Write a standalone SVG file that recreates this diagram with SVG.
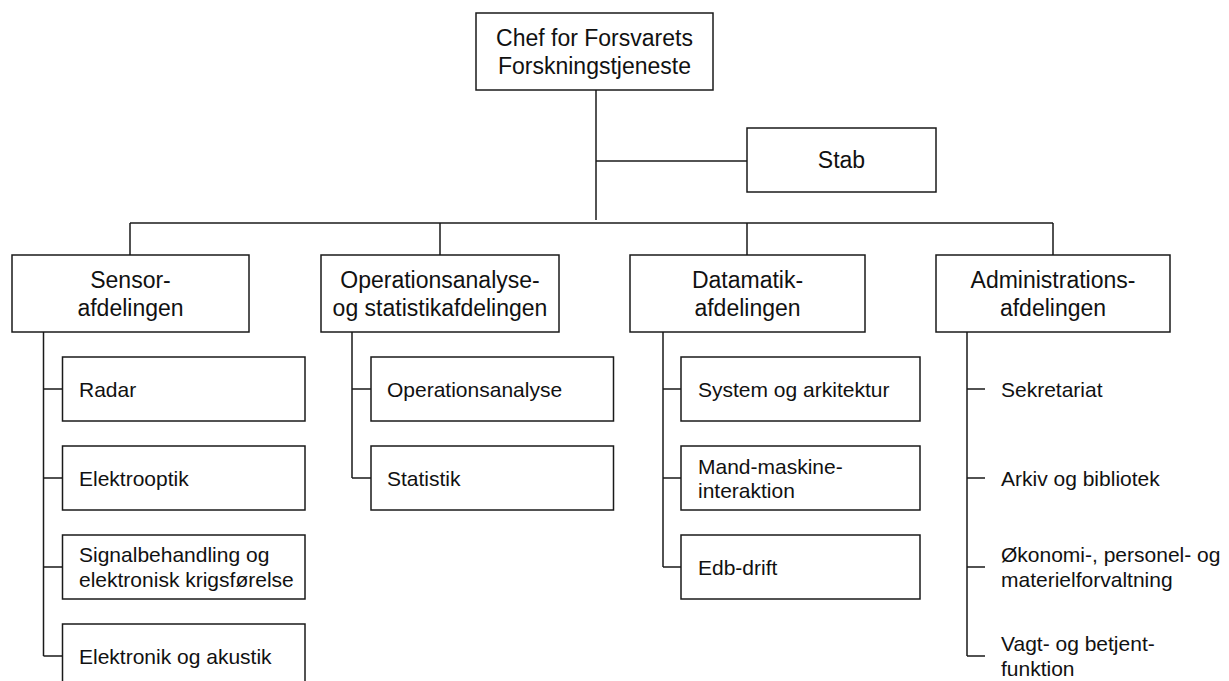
<svg xmlns="http://www.w3.org/2000/svg" width="1229" height="681" viewBox="0 0 1229 681">
<style>
rect{fill:#fff;stroke:#1a1a1a;stroke-width:1.5}
.c path{fill:none;stroke:#1a1a1a;stroke-width:1.5}
text{font-family:"Liberation Sans",Arial,Helvetica,sans-serif;fill:#111}
.m{font-size:23px;text-anchor:middle}
.s{font-size:21px}
</style>
<rect x="0" y="0" width="1229" height="681" style="stroke:none"/>
<g class="c" id="connectors">
<path d="M596 90V220"/>
<path d="M596 161H747"/>
<path d="M130 223H1053"/>
<path d="M130 223V255M440 223V255M747 223V255M1053 223V255"/>
<path d="M43.5 332V656M43.5 389H62.5M43.5 478H62.5M43.5 567H62.5M43.5 656H62.5"/>
<path d="M352 332V478M352 389H371M352 478H371"/>
<path d="M663 332V567M663 389H681M663 478H681M663 567H681"/>
<path d="M967 332V656M967 389H985M967 478H985M967 567H985M967 656H985"/>
</g>
<g id="chef"><rect x="476" y="13" width="237" height="77"/><text class="m" x="594.5" y="45.7">Chef for Forsvarets</text><text class="m" x="594.5" y="73.7">Forskningstjeneste</text></g>
<g id="stab"><rect x="747" y="128" width="189" height="64"/><text class="m" x="841.5" y="168">Stab</text></g>
<g id="sensor"><rect x="12" y="255" width="237" height="77"/><text class="m" x="130.5" y="287.7">Sensor-</text><text class="m" x="130.5" y="315.7">afdelingen</text></g>
<g id="operation"><rect x="321" y="255" width="238" height="77"/><text class="m" x="440" y="287.7">Operationsanalyse-</text><text class="m" x="440" y="315.7">og statistikafdelingen</text></g>
<g id="datamatik"><rect x="630" y="255" width="235" height="77"/><text class="m" x="747.5" y="287.7">Datamatik-</text><text class="m" x="747.5" y="315.7">afdelingen</text></g>
<g id="admin"><rect x="936" y="255" width="234" height="77"/><text class="m" x="1053" y="287.7">Administrations-</text><text class="m" x="1053" y="315.7">afdelingen</text></g>
<g id="radar"><rect x="62.5" y="357" width="242.5" height="64"/><text class="s" x="79" y="396.5">Radar</text></g>
<g id="elektrooptik"><rect x="62.5" y="446" width="242.5" height="64"/><text class="s" x="79" y="485.5">Elektrooptik</text></g>
<g id="signal"><rect x="62.5" y="535" width="242.5" height="64"/><text class="s" x="79" y="562">Signalbehandling og</text><text class="s" x="79" y="586.5">elektronisk krigsførelse</text></g>
<g id="elektronik"><rect x="62.5" y="624" width="242.5" height="64"/><text class="s" x="79" y="663.5">Elektronik og akustik</text></g>
<g id="operationsanalyse"><rect x="371" y="357" width="242.5" height="64"/><text class="s" x="387" y="396.5">Operationsanalyse</text></g>
<g id="statistik"><rect x="371" y="446" width="242.5" height="64"/><text class="s" x="387" y="485.5">Statistik</text></g>
<g id="system"><rect x="681" y="357" width="239" height="64"/><text class="s" x="698" y="396.5">System og arkitektur</text></g>
<g id="mand"><rect x="681" y="446" width="239" height="64"/><text class="s" x="698" y="473.5">Mand-maskine-</text><text class="s" x="698" y="498">interaktion</text></g>
<g id="edb"><rect x="681" y="535" width="239" height="64"/><text class="s" x="698" y="574.5">Edb-drift</text></g>
<g id="sekretariat"><text class="s" x="1001" y="396.5">Sekretariat</text></g>
<g id="arkiv"><text class="s" x="1001" y="485.5">Arkiv og bibliotek</text></g>
<g id="okonomi"><text class="s" x="1001" y="562">Økonomi-, personel- og</text><text class="s" x="1001" y="586.5">materielforvaltning</text></g>
<g id="vagt"><text class="s" x="1001" y="651">Vagt- og betjent-</text><text class="s" x="1001" y="675.5">funktion</text></g>
</svg>
